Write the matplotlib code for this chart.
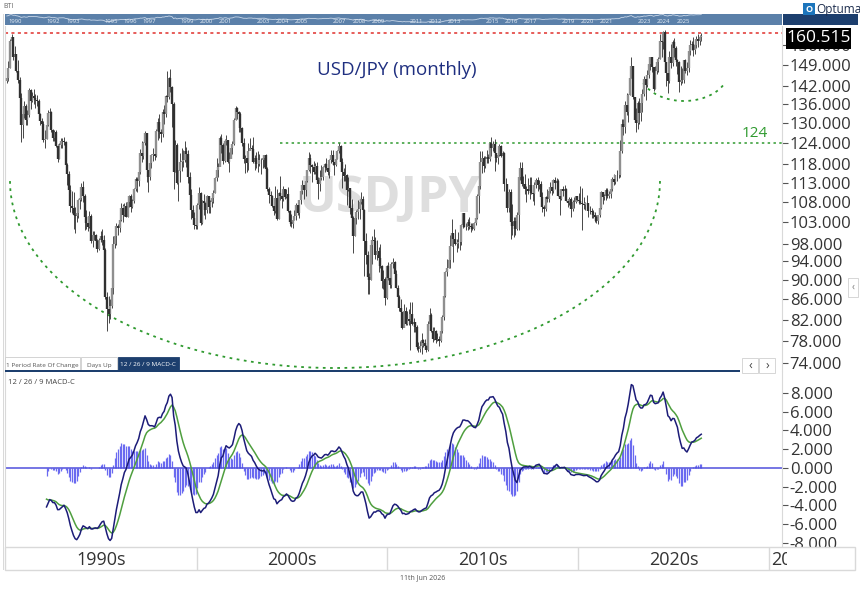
"""USD/JPY monthly candles with 12/26/9 MACD, laid out like an Optuma chart."""

import matplotlib
matplotlib.use("Agg")
import matplotlib.pyplot as plt
import numpy as np
import pandas as pd
from matplotlib.patches import Rectangle
from matplotlib.ticker import FixedLocator, FormatStrFormatter, NullLocator

plt.rcParams["font.family"] = ["Open Sans", "DejaVu Sans"]

W, H = 860, 592
PX_PER_YEAR = 19.07   # horizontal scale of the reference
X0_PX = 6             # pixel where Jan 1990 starts

# ---- data (monthly, Jan 1990 .. Jun 2026) ----
START_YEAR = 1990
FIRST_OPEN = 143.4
CLOSES = [
    144.5, 148.0, 157.6, 159.1, 152.0, 152.9, 147.0, 144.0, 137.9, 129.3, 132.8, 135.4,
    131.1, 132.5, 140.6, 137.1, 138.4, 137.9, 137.4, 136.9, 132.9, 130.6, 129.6, 124.9,
    125.4, 129.3, 133.1, 133.4, 127.9, 125.6, 127.3, 123.3, 119.4, 123.6, 124.8, 124.8,
    124.3, 117.9, 115.4, 111.1, 107.1, 106.5, 104.7, 104.5, 105.3, 108.5, 109.0, 111.9,
    109.6, 104.2, 102.8, 102.0, 104.5, 98.5, 100.0, 100.1, 98.7, 96.8, 98.9, 99.7,
    98.9, 96.6, 86.5, 84.1, 83.1, 84.7, 88.3, 97.8, 99.7, 102.2, 101.6, 103.5,
    106.6, 104.8, 107.1, 104.4, 108.1, 109.7, 106.8, 108.2, 111.5, 114.1, 113.6, 116.0,
    121.3, 120.3, 124.1, 126.9, 116.4, 114.6, 118.5, 120.7, 120.9, 120.5, 127.7, 130.4,
    127.2, 126.6, 133.3, 132.8, 138.7, 138.3, 144.4, 141.4, 136.0, 115.9, 123.6, 113.0,
    116.3, 118.8, 119.0, 119.3, 121.8, 121.0, 114.5, 109.8, 106.1, 104.1, 102.3, 102.2,
    107.3, 110.3, 102.9, 108.2, 107.9, 106.1, 109.6, 106.7, 108.1, 109.0, 110.3, 114.4,
    116.4, 117.4, 125.5, 123.6, 118.9, 124.7, 125.0, 118.8, 119.4, 122.5, 123.9, 131.0,
    134.6, 133.5, 132.7, 128.5, 124.1, 119.4, 119.8, 118.4, 121.7, 122.5, 122.4, 118.8,
    119.9, 118.1, 118.1, 119.1, 119.3, 119.8, 120.6, 116.8, 111.4, 109.9, 109.5, 107.1,
    105.8, 109.1, 103.9, 110.4, 109.6, 108.8, 111.4, 109.2, 110.1, 105.8, 103.1, 102.6,
    103.6, 104.6, 107.2, 105.2, 108.5, 110.9, 112.4, 111.1, 113.4, 116.4, 119.8, 117.8,
    117.2, 115.9, 117.7, 113.8, 112.6, 114.4, 114.6, 117.3, 118.2, 116.9, 115.8, 119.1,
    120.7, 118.6, 117.8, 119.5, 121.7, 123.2, 118.7, 115.8, 114.8, 115.2, 111.2, 111.7,
    106.5, 104.0, 99.7, 104.0, 105.5, 106.2, 108.1, 108.8, 106.0, 98.5, 95.5, 90.7,
    89.9, 97.6, 98.9, 98.5, 95.3, 96.4, 94.7, 93.0, 89.8, 90.1, 86.2, 93.0,
    90.3, 89.0, 93.4, 93.9, 91.3, 88.4, 86.5, 84.2, 83.5, 80.4, 83.7, 81.1,
    82.1, 81.8, 83.1, 81.2, 81.5, 80.5, 76.8, 76.6, 77.0, 78.1, 77.6, 77.0,
    76.3, 81.2, 82.9, 79.8, 78.3, 79.8, 78.1, 78.4, 77.9, 79.8, 82.5, 86.7,
    91.7, 92.6, 94.2, 97.5, 100.5, 99.1, 97.9, 98.2, 98.3, 98.4, 102.4, 105.3,
    102.0, 101.8, 103.2, 102.2, 101.8, 101.3, 102.8, 104.1, 109.6, 112.3, 118.7, 119.8,
    117.5, 119.6, 120.1, 119.4, 124.1, 122.5, 123.9, 121.2, 119.9, 120.6, 123.1, 120.3,
    121.1, 112.7, 112.6, 106.5, 110.7, 103.2, 102.1, 103.4, 101.3, 104.8, 114.5, 117.0,
    112.7, 112.8, 111.4, 111.5, 110.8, 112.4, 110.3, 110.0, 112.5, 113.7, 112.5, 112.7,
    109.2, 106.7, 106.3, 109.3, 108.8, 110.8, 111.9, 111.0, 113.7, 112.9, 113.5, 109.7,
    108.9, 111.4, 110.9, 111.4, 108.3, 107.9, 108.8, 106.3, 108.1, 108.0, 109.5, 108.6,
    108.4, 107.9, 107.5, 107.2, 107.8, 107.9, 105.8, 105.9, 105.5, 104.7, 104.3, 103.3,
    104.7, 106.6, 110.7, 109.3, 109.6, 111.1, 109.7, 110.0, 111.3, 114.0, 113.2, 115.1,
    115.1, 115.0, 121.7, 129.8, 128.7, 135.7, 133.3, 138.9, 144.7, 148.7, 138.1, 131.1,
    130.1, 136.2, 133.0, 136.3, 139.3, 144.3, 142.3, 145.5, 149.4, 151.7, 148.2, 141.0,
    147.0, 150.0, 151.3, 157.8, 157.3, 160.9, 150.0, 146.2, 143.6, 152.0, 149.8, 157.2,
    155.2, 150.6, 149.9, 143.1, 144.0, 144.0, 150.7, 147.1, 148.0, 154.0, 156.0, 156.7,
    154.5, 156.0, 158.5, 157.5, 159.0, 159.5,
]
HIGHS = [
    146.0, 150.3, 158.4, 160.3, 159.3, 155.8, 153.0, 150.8, 145.0, 139.5, 133.8, 137.0,
    136.0, 134.1, 141.2, 141.0, 140.0, 141.0, 139.1, 138.9, 137.5, 133.0, 131.5, 130.8,
    128.0, 129.9, 134.2, 134.8, 133.8, 128.3, 128.0, 128.0, 123.8, 124.2, 125.6, 125.5,
    125.8, 124.6, 118.3, 116.3, 112.4, 110.8, 110.7, 106.9, 107.7, 108.8, 109.6, 113.0,
    113.4, 110.0, 106.0, 104.3, 105.8, 105.0, 100.9, 101.0, 100.3, 99.1, 99.4, 100.9,
    101.5, 99.9, 97.0, 87.5, 86.7, 86.0, 90.2, 99.8, 100.7, 102.9, 102.7, 103.8,
    107.9, 107.5, 107.8, 108.0, 108.5, 109.9, 110.2, 108.8, 111.6, 114.6, 114.5, 116.3,
    122.4, 124.6, 124.5, 127.5, 127.0, 116.5, 118.6, 120.9, 122.5, 123.3, 128.2, 131.6,
    132.9, 128.3, 134.4, 135.6, 139.0, 146.8, 144.8, 147.6, 141.7, 136.7, 125.0, 124.0,
    116.6, 121.3, 122.6, 122.1, 124.8, 122.9, 122.2, 115.8, 111.5, 107.3, 105.6, 103.8,
    107.8, 111.8, 110.6, 108.5, 110.0, 108.0, 109.9, 109.6, 108.6, 109.2, 111.1, 114.6,
    119.8, 118.5, 126.0, 126.8, 124.0, 125.2, 126.5, 124.8, 121.4, 123.9, 124.6, 131.5,
    135.2, 135.0, 133.8, 133.5, 128.7, 125.7, 120.7, 121.3, 124.0, 125.6, 123.5, 125.8,
    120.6, 121.5, 121.7, 120.8, 119.7, 120.7, 120.7, 120.8, 117.3, 111.9, 110.9, 109.8,
    107.4, 112.2, 111.4, 110.5, 114.9, 111.0, 112.3, 111.1, 111.4, 111.8, 106.0, 105.1,
    104.5, 106.0, 107.7, 108.0, 108.6, 111.0, 113.7, 112.0, 113.5, 116.4, 121.4, 121.0,
    118.0, 119.0, 118.5, 118.7, 114.5, 116.5, 117.8, 117.7, 118.5, 119.9, 118.0, 119.4,
    122.2, 122.2, 118.1, 120.0, 122.2, 124.1, 123.4, 119.8, 117.1, 118.0, 115.4, 114.7,
    109.8, 108.7, 104.5, 105.0, 106.1, 108.6, 108.6, 110.7, 109.7, 106.4, 100.5, 96.4,
    91.4, 98.7, 99.7, 101.4, 99.6, 98.9, 97.3, 97.9, 93.3, 92.2, 90.7, 93.2,
    93.8, 91.8, 93.8, 94.7, 94.0, 92.0, 88.9, 86.9, 86.0, 83.3, 85.0, 84.5,
    83.7, 84.0, 85.5, 85.5, 82.3, 81.6, 81.0, 77.8, 77.9, 79.5, 78.3, 78.3,
    77.3, 81.7, 84.2, 83.3, 80.5, 80.6, 80.1, 79.5, 78.8, 80.4, 82.9, 86.8,
    91.8, 94.5, 96.7, 99.9, 103.7, 99.9, 101.5, 99.1, 100.6, 99.0, 102.5, 105.4,
    105.4, 102.8, 103.8, 104.4, 102.8, 102.8, 103.1, 104.5, 110.1, 112.5, 121.8, 121.8,
    120.5, 120.5, 122.0, 120.8, 124.5, 125.9, 124.6, 125.3, 121.3, 121.5, 123.8, 123.6,
    121.7, 121.5, 114.2, 112.0, 111.5, 111.4, 107.5, 104.3, 104.2, 105.5, 114.8, 118.7,
    118.6, 114.9, 115.5, 112.2, 114.4, 114.5, 114.5, 111.0, 113.2, 114.4, 114.7, 113.8,
    113.4, 110.5, 107.3, 109.6, 111.4, 110.9, 113.2, 111.8, 114.0, 114.6, 114.2, 114.0,
    109.9, 111.5, 112.1, 112.4, 111.7, 108.8, 109.3, 109.3, 108.5, 109.3, 109.7, 109.7,
    110.3, 112.2, 111.7, 109.4, 108.1, 109.9, 107.8, 107.1, 106.6, 106.1, 105.6, 104.8,
    104.9, 106.7, 110.9, 110.0, 110.2, 111.7, 111.7, 110.8, 112.1, 114.7, 115.5, 115.2,
    116.4, 116.3, 125.1, 131.3, 131.3, 137.0, 139.4, 139.1, 145.9, 151.9, 148.8, 138.2,
    134.8, 136.9, 137.9, 137.8, 140.9, 145.1, 145.0, 147.4, 149.7, 151.7, 151.9, 148.0,
    148.8, 150.9, 151.9, 160.2, 157.7, 161.3, 161.9, 149.4, 146.5, 153.9, 156.7, 158.1,
    158.9, 155.9, 151.3, 150.5, 148.6, 148.0, 150.9, 151.0, 150.0, 154.5, 157.9, 157.8,
    159.3, 156.9, 159.5, 160.1, 159.8, 160.5,
]
LOWS = [
    143.0, 143.6, 147.9, 155.2, 150.6, 150.8, 146.6, 143.0, 135.4, 124.3, 125.7, 131.5,
    129.5, 129.3, 131.8, 134.3, 136.7, 136.0, 134.8, 135.4, 132.3, 129.4, 128.3, 124.5,
    122.7, 125.2, 129.1, 130.8, 127.4, 124.8, 124.7, 122.9, 118.6, 119.6, 122.6, 122.7,
    123.6, 117.5, 112.4, 110.4, 105.6, 105.4, 101.4, 100.4, 103.0, 104.0, 106.3, 108.4,
    108.1, 101.2, 101.4, 101.0, 101.6, 98.1, 97.3, 98.9, 97.8, 96.1, 96.5, 98.4,
    97.6, 96.2, 86.0, 79.8, 81.3, 82.1, 84.3, 87.0, 96.9, 97.7, 100.0, 100.8,
    103.4, 103.0, 104.6, 104.2, 104.3, 106.9, 105.5, 106.6, 107.9, 110.8, 110.5, 112.2,
    115.5, 118.8, 119.4, 123.5, 113.3, 110.6, 113.9, 116.9, 119.0, 119.3, 120.2, 125.1,
    125.5, 124.5, 125.8, 129.6, 132.0, 136.6, 137.7, 140.0, 128.7, 111.5, 115.8, 112.6,
    108.3, 113.2, 116.3, 117.4, 118.7, 117.2, 113.1, 108.9, 103.7, 103.6, 101.3, 101.3,
    101.4, 106.2, 102.3, 102.6, 104.7, 103.9, 105.4, 105.3, 105.2, 106.9, 107.8, 110.3,
    113.6, 114.5, 117.8, 121.2, 118.2, 118.8, 123.4, 118.5, 115.8, 119.8, 120.8, 123.4,
    130.9, 131.2, 127.3, 127.3, 123.1, 118.3, 115.6, 115.8, 116.4, 122.0, 119.2, 118.4,
    116.6, 117.1, 115.8, 117.6, 115.4, 117.1, 117.2, 115.9, 110.9, 107.8, 107.7, 106.7,
    104.8, 105.2, 103.5, 103.7, 108.5, 106.6, 108.4, 108.7, 109.1, 105.6, 102.1, 101.9,
    101.7, 103.6, 103.5, 104.7, 104.0, 107.5, 110.1, 108.7, 109.5, 113.2, 116.1, 115.7,
    113.3, 115.3, 115.3, 113.4, 108.9, 110.8, 113.8, 113.9, 115.8, 116.6, 115.2, 114.4,
    118.5, 117.9, 115.2, 117.6, 119.4, 121.1, 118.4, 111.6, 113.4, 113.6, 107.2, 111.0,
    105.0, 103.3, 95.8, 99.7, 102.6, 103.9, 103.8, 107.5, 103.7, 90.9, 93.5, 87.1,
    87.1, 89.9, 93.5, 96.4, 94.5, 94.4, 91.7, 92.5, 88.4, 88.0, 84.8, 86.0,
    89.9, 88.3, 88.2, 92.6, 89.1, 88.3, 86.2, 83.6, 82.8, 80.2, 80.5, 81.0,
    81.0, 81.0, 76.3, 81.0, 79.6, 79.7, 76.3, 75.9, 75.9, 75.6, 76.8, 76.9,
    76.0, 76.1, 80.8, 79.6, 77.7, 78.2, 77.6, 78.0, 77.1, 77.8, 79.5, 82.0,
    86.5, 90.8, 92.6, 92.6, 97.4, 93.8, 97.6, 96.0, 96.9, 96.6, 97.6, 101.6,
    101.8, 101.2, 101.2, 101.4, 100.8, 101.1, 101.1, 102.4, 103.8, 105.2, 111.4, 115.6,
    115.9, 116.9, 118.3, 118.5, 118.9, 120.4, 121.9, 116.2, 118.6, 118.1, 120.3, 120.1,
    115.9, 110.9, 110.7, 105.6, 105.6, 99.0, 99.9, 99.6, 100.1, 101.2, 101.2, 113.9,
    112.1, 111.7, 110.1, 108.1, 110.2, 108.8, 110.0, 108.3, 107.3, 111.7, 110.8, 111.4,
    108.3, 105.6, 104.6, 105.9, 108.1, 108.1, 110.3, 109.8, 110.4, 111.4, 112.3, 109.6,
    104.9, 108.5, 109.7, 110.8, 108.3, 106.8, 107.2, 104.4, 105.8, 106.5, 107.9, 108.4,
    107.6, 107.6, 101.2, 106.4, 106.0, 106.6, 104.2, 105.1, 104.0, 104.0, 103.2, 102.9,
    102.6, 104.4, 106.4, 107.5, 108.6, 108.6, 109.1, 109.1, 109.1, 110.8, 112.5, 112.6,
    113.5, 114.2, 114.7, 121.3, 126.4, 126.9, 132.5, 130.4, 138.8, 144.6, 137.5, 130.6,
    127.2, 128.1, 129.6, 130.6, 133.5, 138.4, 137.2, 141.5, 144.4, 147.3, 146.7, 140.3,
    140.8, 146.0, 146.5, 151.0, 151.9, 154.6, 149.6, 141.7, 139.6, 142.9, 148.0, 148.6,
    151.8, 148.7, 145.9, 139.9, 142.1, 142.8, 142.7, 146.2, 145.5, 146.6, 152.7, 154.4,
    152.1, 152.8, 155.0, 155.5, 156.3, 157.8,
]

PRICE_TICKS = [74, 78, 82, 86, 90, 94, 98, 103, 108, 113, 118, 124,
               130, 136, 142, 149, 156]
MACD_TICKS = [-8, -6, -4, -2, 0, 2, 4, 6, 8]
DECADES = [1990, 2000, 2010, 2020, 2030]
NAV_YEARS = [1990, 1992, 1993, 1995, 1996, 1997, 1999, 2000, 2001, 2003, 2004,
             2005, 2007, 2008, 2009, 2011, 2012, 2013, 2015, 2016, 2017, 2019,
             2020, 2021, 2023, 2024, 2025]
RESISTANCE = 124
LAST_MARK = 160.515

# annotation ellipses, in reference pixels: centre x, centre y, half width, half height, angle range
BIG_ARC = (335, 181, 325, 187, 0, 180)
SMALL_ARC = (684, 70, 45, 31, 30, 156)

NAVY = "#1d3f6e"
GREEN = "#2f9a2f"
GREY_LINE = "#d9d9d9"


def year_at(px):
    return START_YEAR + (px - X0_PX) / PX_PER_YEAR


def fig_box(x0, y0, x1, y1):
    """Pixel box (origin top-left) -> figure-fraction [left, bottom, width, height]."""
    return [x0 / W, 1 - y1 / H, (x1 - x0) / W, (y1 - y0) / H]


def fig_rect(fig, x0, y0, x1, y1, **kw):
    l, b, w, h = fig_box(x0, y0, x1, y1)
    fig.add_artist(Rectangle((l, b), w, h, transform=fig.transFigure, **kw))


def fig_text(fig, px, py, s, **kw):
    fig.text(px / W, 1 - py / H, s, **kw)


def main() -> None:
    close = np.array(CLOSES)
    high = np.array(HIGHS)
    low = np.array(LOWS)
    assert len(close) == len(high) == len(low)
    opens = np.concatenate([[FIRST_OPEN], close[:-1]])
    t = START_YEAR + (np.arange(len(close)) + 0.5) / 12

    s = pd.Series(close)
    macd = s.ewm(span=12, adjust=False).mean() - s.ewm(span=26, adjust=False).mean()
    signal = macd.ewm(span=9, adjust=False).mean()
    hist = macd - signal
    shown = slice(25, None)

    fig = plt.figure(figsize=(W / 100, H / 100), dpi=100)
    xlim = (year_at(5), year_at(782))

    # ---- price panel ----
    ax = fig.add_axes(fig_box(5, 26, 782, 371))
    ax.set_yscale("log")
    ax.set_xlim(*xlim)
    ax.set_ylim(72.67, 163.3)
    up = close >= opens
    ax.vlines(t, low, high, color="#2a2a2a", lw=0.6, zorder=3)
    ax.vlines(t[up], opens[up], close[up], color="#8f8f8f", lw=1.7, zorder=3)
    ax.vlines(t[~up], opens[~up], close[~up], color="#303030", lw=1.7, zorder=3)

    ax.axhline(LAST_MARK, color="#e0302c", lw=1.1, ls=(0, (2, 2.2)), zorder=2)
    ax.hlines(RESISTANCE, year_at(280), xlim[1], color=GREEN, lw=1.1,
              ls=(0, (1.6, 2.2)), zorder=2)
    ax.text(year_at(755), RESISTANCE * 1.005, "124", color=GREEN, fontsize=11,
            ha="center", va="bottom", zorder=4)

    for cx, cy, a, b, t0, t1 in (BIG_ARC, SMALL_ARC):
        th = np.radians(np.linspace(t0, t1, 200))
        px = cx + a * np.cos(th)
        py = cy + b * np.sin(th)
        ax.plot((px - 5) / 777, (371 - py) / 345, transform=ax.transAxes,
                color=GREEN, lw=1.3, ls=(0, (1.5, 2.5)), zorder=2)

    ax.text(0.4955, 0.50, "USDJPY", transform=ax.transAxes, ha="center",
            va="center", fontsize=36, fontweight="bold", color="#dedede", zorder=1)
    ax.text(0.5045, 0.872, "USD/JPY (monthly)", transform=ax.transAxes,
            ha="center", va="center", fontsize=13.5, color="#1f2f80", zorder=4)

    ax.yaxis.tick_right()
    ax.yaxis.set_major_locator(FixedLocator(PRICE_TICKS))
    ax.yaxis.set_major_formatter(FormatStrFormatter("%.3f"))
    ax.yaxis.set_minor_locator(NullLocator())
    ax.xaxis.set_major_locator(NullLocator())
    ax.tick_params(axis="y", length=4, width=0.8, color="#555555", pad=1.5,
                   labelsize=12, labelcolor="#333333")
    for side in ("top", "bottom"):
        ax.spines[side].set_visible(False)
    for side in ("left", "right"):
        ax.spines[side].set_color(GREY_LINE)

    # ---- MACD panel ----
    mx = fig.add_axes(fig_box(5, 372, 782, 547))
    mx.set_xlim(*xlim)
    mx.set_ylim(-8.43, 10.24)
    mx.axhline(0, color="#5050dc", lw=1.1, zorder=2)
    mx.vlines(t[shown], 0, hist[shown], color="#6a6af0", lw=0.9, zorder=1)
    mx.plot(t[shown], signal[shown], color="#4f9f3f", lw=1.1, zorder=3)
    mx.plot(t[shown], macd[shown], color="#1c1c78", lw=1.1, zorder=4)
    mx.yaxis.tick_right()
    mx.yaxis.set_major_locator(FixedLocator(MACD_TICKS))
    mx.yaxis.set_major_formatter(FormatStrFormatter("%.3f"))
    mx.xaxis.set_major_locator(NullLocator())
    mx.tick_params(axis="y", length=4, width=0.8, color="#555555", pad=1.5,
                   labelsize=12, labelcolor="#333333")
    for side in ("top", "bottom"):
        mx.spines[side].set_visible(False)
    for side in ("left", "right"):
        mx.spines[side].set_color(GREY_LINE)
    mx.text(0.004, 0.94, "12 / 26 / 9 MACD-C", transform=mx.transAxes,
            fontsize=5.5, color="#444444", va="center")

    # ---- decade band ----
    fig_rect(fig, 5, 547, 855, 570, facecolor="white", edgecolor=GREY_LINE,
             lw=1, zorder=4)
    bx = fig.add_axes(fig_box(5, 547, 787, 570))
    bx.set_zorder(5)
    bx.patch.set_alpha(0)
    bx.set_xlim(year_at(5), year_at(787))
    bx.set_ylim(0, 1)
    bx.set_xticks([])
    bx.set_yticks([])
    for sp in bx.spines.values():
        sp.set_visible(False)
    bx.vlines(DECADES[1:], 0, 1, color=GREY_LINE, lw=1)
    for d in DECADES[:-1]:
        bx.text(d + 5, 0.45, f"{d}s", ha="center", va="center", fontsize=13,
                color="#333333")
    bx.text(DECADES[-1] + 0.1, 0.45, f"{DECADES[-1]}s", ha="left", va="center",
            fontsize=13, color="#333333", clip_on=True)

    # ---- navigator strip ----
    nx = fig.add_axes(fig_box(5, 14, 782, 25))
    nx.set_facecolor("#5b80a9")
    nx.set_xlim(*xlim)
    nx.set_ylim(close.min() - 30, close.max() + 5)
    nx.plot(t, close, color="#c9d7e8", lw=0.6)
    for y in NAV_YEARS:
        nx.text(y + 0.5, 60, str(y), fontsize=4.2, color="#e6edf5",
                ha="center", va="bottom")
    nx.set_xticks([])
    nx.set_yticks([])
    for sp in nx.spines.values():
        sp.set_visible(False)
    fig_rect(fig, 783, 14, 858, 25, facecolor=NAVY, edgecolor="none")

    # ---- chrome: tabs, labels, logo ----
    fig_rect(fig, 5, 357, 80, 371, facecolor="white", edgecolor="#cccccc", lw=0.6, zorder=6)
    fig_rect(fig, 81, 357, 117, 371, facecolor="white", edgecolor="#cccccc", lw=0.6, zorder=6)
    fig_rect(fig, 118, 357, 179, 371, facecolor=NAVY, edgecolor=NAVY, lw=0.6, zorder=6)
    fig_text(fig, 42, 365, "1 Period Rate Of Change", fontsize=4.6, color="#555555",
             ha="center", va="center", zorder=7)
    fig_text(fig, 99, 365, "Days Up", fontsize=4.6, color="#555555",
             ha="center", va="center", zorder=7)
    fig_text(fig, 148, 365, "12 / 26 / 9 MACD-C", fontsize=4.6, color="white",
             ha="center", va="center", zorder=7)
    fig_rect(fig, 5, 370, 740, 372, facecolor=NAVY, edgecolor="none", zorder=6)
    for x0, ch in ((742, "‹"), (759, "›")):
        fig_rect(fig, x0, 358, x0 + 16, 373, facecolor="white",
                 edgecolor="#d0d0d0", lw=0.6, zorder=6)
        fig_text(fig, x0 + 8, 365, ch, fontsize=9, color="#444444",
                 ha="center", va="center", zorder=7)
    fig_rect(fig, 848, 278, 858, 297, facecolor="white", edgecolor="#d0d0d0",
             lw=0.6, zorder=6)
    fig_text(fig, 853, 287, "‹", fontsize=7, color="#777777", ha="center",
             va="center", zorder=7)

    fig_rect(fig, 786, 28, 851, 49, facecolor="black", edgecolor="none", zorder=6)
    fig_text(fig, 818.5, 38.5, f"{LAST_MARK:.3f}", fontsize=12.5, color="white",
             ha="center", va="center", zorder=7)

    fig_rect(fig, 803, 3, 815, 15, facecolor="#1c75bc", edgecolor="none", zorder=6)
    fig_text(fig, 809, 9.5, "O", fontsize=6.5, color="white", ha="center",
             va="center", fontweight="bold", zorder=7)
    fig_text(fig, 816, 9.5, "Optuma", fontsize=8.5, color="#1d2d4d", ha="left",
             va="center", zorder=7)
    fig_text(fig, 3, 6, "BTI", fontsize=5, color="#666666", ha="left", va="center")
    fig_text(fig, 423, 578, "11th Jun 2026", fontsize=5, color="#555555",
             ha="center", va="center")
    fig_rect(fig, 3, 14, 4, 570, facecolor=GREY_LINE, edgecolor="none")

    fig.savefig("out.png", dpi=100)


if __name__ == "__main__":
    main()
